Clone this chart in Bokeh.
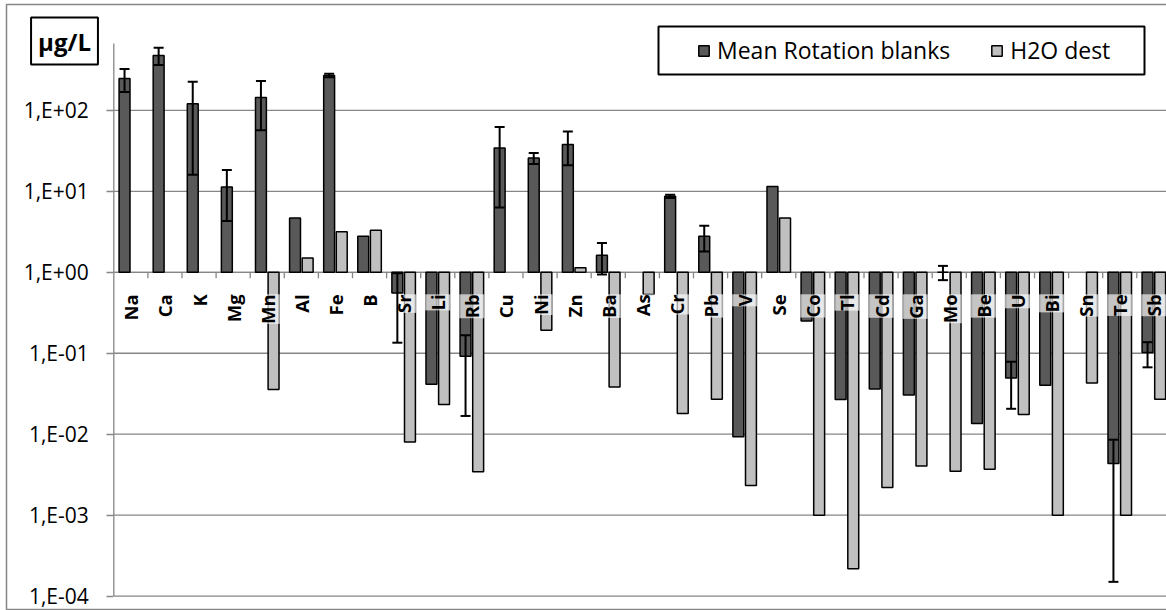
import math
import numpy as np
from bokeh.plotting import figure
from bokeh.models import (ColumnDataSource, Range1d, Whisker, TeeHead, Legend, LegendItem,
                          CustomJSTickFormatter, FixedTicker, BoxAnnotation, Label, LogAxis)
from bokeh.core.properties import value
from bokeh.embed import file_html
from bokeh.resources import INLINE

nan = float("nan")

elements = ["Na", "Ca", "K", "Mg", "Mn", "Al", "Fe", "B", "Sr", "Li", "Rb", "Cu", "Ni", "Zn",
            "Ba", "As", "Cr", "Pb", "V", "Se", "Co", "Tl", "Cd", "Ga", "Mo", "Be", "U", "Bi",
            "Sn", "Te", "Sb"]

mean_blanks = [247, 478, 121, 11.3, 144, 4.68, 270, 2.78, 0.555, 0.0414, 0.0918, 34.3, 25.8, 38.0,
               1.62, nan, 8.67, 2.78, 0.00927, 11.5, 0.25, 0.0268, 0.0363, 0.0306, 1.0, 0.0136,
               0.0496, 0.0403, nan, 0.00435, 0.102]

mean_err = [78, 115, 105, 7.0, 87, nan, 14, nan, 0.42, nan, 0.075, 28, 4.0, 17,
            0.68, nan, 0.4, 0.97, nan, nan, nan, nan, nan, nan, 0.2, nan,
            0.029, nan, nan, 0.0042, 0.035]

h2o_dest = [nan, nan, nan, nan, 0.0356, 1.50, 3.18, 3.30, 0.00803, 0.0233, 0.00343, nan, 0.192, 1.14,
            0.0384, 0.53, 0.018, 0.027, 0.00232, 4.68, 0.001, 0.000217, 0.0022, 0.00406, 0.00349,
            0.0037, 0.0175, 0.001, 0.043, 0.001, 0.027]

series_names = ["Mean Rotation blanks", "H2O dest"]
tick_values = [1e-4, 1e-3, 1e-2, 1e-1, 1, 10, 100]
unit_label = "µg/L"

GRAY = "#868686"
DARK = "#595959"
LIGHT = "#c0c0c0"
FONT = "Open Sans"

N = len(elements)
xc = np.arange(N) + 0.5
OFF = 0.185
BW = 0.32

# pixel geometry of the plot area inside a full-canvas frame
W, H = 1166, 610
AXIS_PX = 113.3      # x pixel of the value axis
CAT_PX = 34.1        # pixels per category
ONE_PX = 271.8       # y pixel of value 1
DEC_PX = 80.95       # pixels per decade
AREA_TOP_PX = 43     # top of the plot area

x_lo = -AXIS_PX / CAT_PX
x_hi = (W - AXIS_PX) / CAT_PX
y_hi = 10 ** (ONE_PX / DEC_PX)
y_lo = 10 ** ((ONE_PX - H) / DEC_PX)
area_top = 10 ** ((ONE_PX - AREA_TOP_PX) / DEC_PX)

p = figure(width=W, height=H, output_backend="svg", toolbar_location=None,
           y_axis_type="log", x_range=Range1d(x_lo, x_hi), y_range=Range1d(y_lo, y_hi),
           x_axis_location=None, y_axis_location=None,
           min_border_left=0, min_border_right=0, min_border_top=0, min_border_bottom=0)
p.outline_line_color = None
p.background_fill_color = "white"
p.border_fill_color = "white"
p.xgrid.visible = False
p.ygrid.visible = False

yt = FixedTicker(ticks=tick_values)
yaxis = LogAxis(ticker=yt, fixed_location=0)
yaxis.formatter = CustomJSTickFormatter(code="""
const e = Math.round(Math.log10(tick));
const a = Math.abs(e);
return '1,E' + (e < 0 ? '-' : '+') + (a < 10 ? '0' : '') + a;
""")
yaxis.axis_line_color = None
yaxis.major_tick_line_color = GRAY
yaxis.major_tick_line_width = 1.3
yaxis.major_tick_out = 7
yaxis.major_tick_in = 0
yaxis.minor_tick_line_color = None
yaxis.major_label_text_font = FONT
yaxis.major_label_text_font_size = "21px"
yaxis.major_label_text_color = "black"
yaxis.major_label_standoff = 18
p.add_layout(yaxis, "left")

# horizontal gridlines at the decades, across the plot area only
grid_y = np.array(tick_values, dtype=float)
p.segment(x0=np.zeros(len(grid_y)), y0=grid_y, x1=np.full(len(grid_y), x_hi), y1=grid_y,
          line_color=GRAY, line_width=1.3, level="underlay")
# value axis line
p.segment(x0=[0], y0=[tick_values[0]], x1=[0], y1=[area_top], line_color=GRAY,
          line_width=1.3, level="underlay")
# category axis line at 1 and boundary ticks
p.segment(x0=[0], y0=[1], x1=[x_hi], y1=[1], line_color=GRAY, line_width=1.3, level="underlay")
bounds = np.arange(1, N + 1)
tick_low = 10 ** (-6 / DEC_PX)
p.segment(x0=bounds, y0=np.ones(N), x1=bounds, y1=np.full(N, tick_low),
          line_color=GRAY, line_width=1.3)

src = ColumnDataSource(dict(
    x_dark=xc - OFF, x_light=xc + OFF,
    dark=np.array(mean_blanks, dtype=float),
    light=np.array(h2o_dest, dtype=float),
    base=np.ones(N),
    name=elements,
    xc=xc,
))

r_dark = p.vbar(x="x_dark", width=BW, top="dark", bottom="base", source=src,
                fill_color=DARK, line_color="black", line_width=1.5)
r_light = p.vbar(x="x_light", width=BW, top="light", bottom="base", source=src,
                 fill_color=LIGHT, line_color="black", line_width=1.5)

p.text(x="xc", y="base", text="name", source=src, angle=math.pi / 2,
       text_align="right", text_baseline="middle", y_offset=22,
       text_font=value(FONT), text_font_style="bold", text_font_size="18.5px",
       text_color="black", background_fill_color="white", background_fill_alpha=0.65)

# error bars
m = np.array(mean_blanks, dtype=float)
e = np.array(mean_err, dtype=float)
ok = ~np.isnan(e) & ~np.isnan(m)
err_src = ColumnDataSource(dict(x=(xc - OFF)[ok], lower=(m - e)[ok], upper=(m + e)[ok]))
wh = Whisker(source=err_src, base="x", lower="lower", upper="upper", dimension="height",
             line_color="black", line_width=2,
             upper_head=TeeHead(size=10, line_color="black", line_width=2),
             lower_head=TeeHead(size=10, line_color="black", line_width=2))
wh.level = "overlay"
p.add_layout(wh)

# legend
legend = Legend(items=[LegendItem(label=series_names[0], renderers=[r_dark]),
                       LegendItem(label=series_names[1], renderers=[r_light])],
                orientation="horizontal", location=(697, 544), padding=0, margin=0,
                spacing=40, label_standoff=7, glyph_width=13, glyph_height=13,
                label_text_font=FONT, label_text_font_size="23px", label_text_color="black",
                border_line_color=None, background_fill_alpha=0)
p.add_layout(legend)

p.add_layout(BoxAnnotation(left=658, right=1144, top=26, bottom=74,
                           left_units="canvas", right_units="canvas",
                           top_units="canvas", bottom_units="canvas",
                           fill_alpha=0, line_color="black", line_alpha=1.0, line_width=2))
p.add_layout(BoxAnnotation(left=6, right=1300, top=4, bottom=609,
                           left_units="canvas", right_units="canvas",
                           top_units="canvas", bottom_units="canvas",
                           fill_alpha=0, line_color=GRAY, line_alpha=1.0, line_width=1.5))
p.add_layout(Label(x=64, y=40.5, x_units="canvas", y_units="canvas", text=unit_label,
                   text_align="center", text_baseline="middle", text_font=FONT,
                   text_font_style="bold", text_font_size="24px", text_color="black",
                   border_line_color="black", border_line_width=2, border_line_alpha=1.0,
                   background_fill_color="white", padding=7))

open("out.html", "w").write(file_html(p, INLINE))
